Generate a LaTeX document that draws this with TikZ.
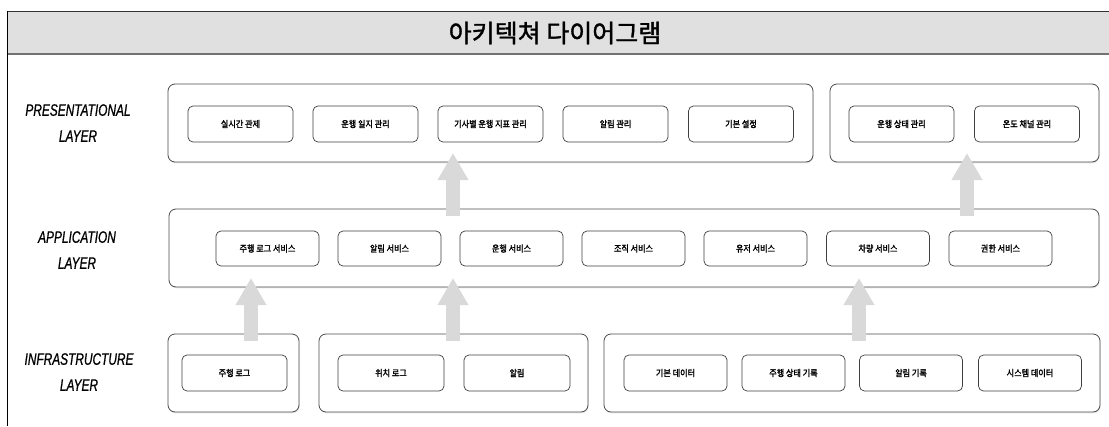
\documentclass[tikz,border=0pt]{standalone}
\usepackage{fontspec}
\setmainfont{Liberation Sans}
\newfontfamily\cjkt{Noto Sans CJK KR}[FakeBold=1.4]
\newfontfamily\cjkb{Noto Sans CJK KR}[FakeBold=2,FakeStretch=0.9]
\newfontfamily\layerfont{Liberation Sans}[FakeStretch=0.72,FakeBold=0.8]
\usetikzlibrary{arrows.meta,shadows}
\definecolor{arrowgray}{RGB}{217,217,217}
\definecolor{titlegray}{RGB}{224,224,224}
\tikzset{
  cont/.style={draw=black!70, line width=0.8pt, rounded corners=7pt, fill=white,
    inner sep=0pt, outer sep=0pt,
    drop shadow={opacity=0.18, shadow xshift=0.6pt, shadow yshift=-1.4pt}},
  box/.style={draw=black!75, line width=0.7pt, rounded corners=5pt, fill=white,
    inner sep=0pt, outer sep=0pt, font=\cjkb\fontsize{9}{10}\selectfont},
  layerlbl/.style={align=center, font=\layerfont\itshape\fontsize{16.5}{26}\selectfont},
  uparrow/.style={draw=arrowgray, line width=14pt,
    -{Triangle[width=29pt,length=27pt]}, color=arrowgray}
}
\begin{document}
\begin{tikzpicture}[x=1pt,y=-1pt]
\useasboundingbox (0,0) rectangle (1109,426);
% title bar
\fill[titlegray] (7,11) rectangle (1109,54);
\draw[black!80, line width=1pt] (7,11) -- (1109,11);
\draw[black!55, line width=2pt] (7,54) -- (1109,54);
\draw[black, line width=1pt] (7,10.5) -- (7,426);
\node[font=\cjkt\fontsize{25}{28}\selectfont] (title) at (555,33) {아키텍쳐 다이어그램};

% layer labels
\node[layerlbl] (lp) at (78,123) {PRESENTATIONAL\\LAYER};
\node[layerlbl] (la) at (77,250) {APPLICATION\\LAYER};
\node[layerlbl] (li) at (79,372) {INFRASTRUCTURE\\LAYER};

% containers
\node[cont, minimum width=645pt, minimum height=78pt] (p1) at (490.5,123) {};
\node[cont, minimum width=269pt, minimum height=78pt] (p2) at (964.5,123) {};
\node[cont, minimum width=930pt, minimum height=78pt] (app) at (634,248) {};
\node[cont, minimum width=131pt, minimum height=78pt] (i1) at (233.5,373) {};
\node[cont, minimum width=269pt, minimum height=78pt] (i2) at (453.5,373) {};
\node[cont, minimum width=496pt, minimum height=78pt] (i3) at (852,373) {};

% presentation boxes
\begin{scope}[every node/.style={box, minimum width=105pt, minimum height=36pt}]
\node (pb1) at (240.5,124) {실시간 관제};
\node (pb2) at (365.5,124) {운행 일지 관리};
\node (pb3) at (490.5,124) {기사별 운행 지표 관리};
\node (pb4) at (615.5,124) {알림 관리};
\node (pb5) at (741,124) {기본 설정};
\node (pb6) at (901.5,124) {운행 상태 관리};
\node (pb7) at (1027,124) {온도 채널 관리};
\end{scope}

% application boxes
\begin{scope}[every node/.style={box, minimum width=103pt, minimum height=35pt}]
\node (ab1) at (267.5,248.5) {주행 로그 서비스};
\node (ab2) at (389.5,248.5) {알림 서비스};
\node (ab3) at (511.5,248.5) {운행 서비스};
\node (ab4) at (633.5,248.5) {조직 서비스};
\node (ab5) at (755.5,248.5) {유저 서비스};
\node (ab6) at (878,248.5) {차량 서비스};
\node (ab7) at (1000.5,248.5) {권한 서비스};
\end{scope}

% infrastructure boxes
\begin{scope}[every node/.style={box, minimum height=36pt}]
\node[minimum width=105pt] (ib1) at (234.5,373) {주행 로그};
\node[minimum width=106pt] (ib2) at (391,373) {위치 로그};
\node[minimum width=106pt] (ib3) at (517,373) {알림};
\node[minimum width=103pt] (ib4) at (675.5,373) {기본 데이터};
\node[minimum width=103pt] (ib5) at (793.5,373) {주행 상태 기록};
\node[minimum width=103pt] (ib6) at (911,373) {알림 기록};
\node[minimum width=103pt] (ib7) at (1030,373) {시스템 데이터};
\end{scope}

% arrow end points
\coordinate (a1s) at (251,341); \coordinate (a1e) at (251,278);
\coordinate (a2s) at (453,341); \coordinate (a2e) at (453,278);
\coordinate (a3s) at (859,341); \coordinate (a3e) at (859,278);
\coordinate (a4s) at (453,216); \coordinate (a4e) at (453,153);
\coordinate (a5s) at (967,216); \coordinate (a5e) at (967,153);
\draw[uparrow] (a1s) -- (a1e);
\draw[uparrow] (a2s) -- (a2e);
\draw[uparrow] (a3s) -- (a3e);
\draw[uparrow] (a4s) -- (a4e);
\draw[uparrow] (a5s) -- (a5e);
\end{tikzpicture}
\end{document}
